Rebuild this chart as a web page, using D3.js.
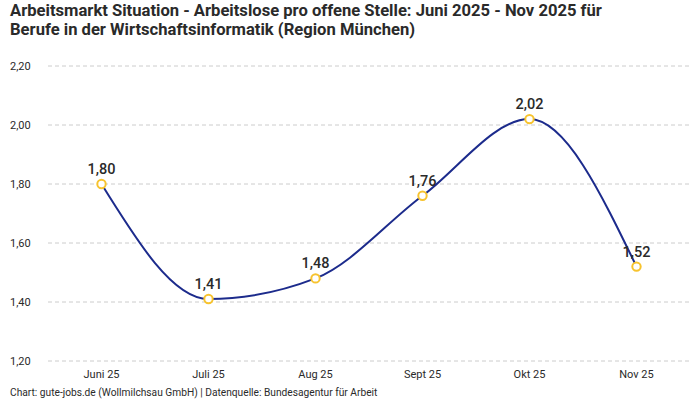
<!DOCTYPE html>
<html>
<head>
<meta charset="utf-8">
<script src="https://cdn.jsdelivr.net/npm/d3@7"></script>
<style>
  body { margin: 0; background: #fff; }
  text { font-family: Roboto, "Noto Sans", sans-serif; fill: #2a2a2a; }
</style>
</head>
<body>
<div id="chart"></div>
<script>
// data
var months = ["Juni 25", "Juli 25", "Aug 25", "Sept 25", "Okt 25", "Nov 25"];
var ratio = [1.80, 1.41, 1.48, 1.76, 2.02, 1.52];
var yTicks = [1.20, 1.40, 1.60, 1.80, 2.00, 2.20];
var titleLines = ["Arbeitsmarkt Situation - Arbeitslose pro offene Stelle: Juni 2025 - Nov 2025 für",
  "Berufe in der Wirtschaftsinformatik (Region München)"];
var footer = "Chart: gute-jobs.de (Wollmilchsau GmbH) | Datenquelle: Bundesagentur für Arbeit";

var w = 700, h = 400;
var margin = {top: 66, right: 10, bottom: 39, left: 48};
var lineBlue = "#1c2b8c";
var dotYellow = "#f7c32e";

var svg = d3.select("#chart")
  .append("svg")
  .attr("width", w)
  .attr("height", h);

var data = months.map(function(m, i){ return {month: m, value: ratio[i]}; });

var xScale = d3.scaleBand()
  .domain(months)
  .range([margin.left, w - margin.right]);
var yScale = d3.scaleLinear()
  .domain([1.20, 2.20])
  .range([h - margin.bottom, margin.top]);

var fmt = function(v){ return d3.format(".2f")(v).replace(".", ","); };

// title
svg.selectAll(".title")
  .data(titleLines)
  .enter()
  .append("text")
  .attr("class", "title")
  .attr("x", 10)
  .attr("y", function(d, i){ return 16 + i * 19; })
  .attr("font-size", "16.6px")
  .attr("font-weight", "bold")
  .text(function(d){ return d; });

// grid lines
svg.append("g")
  .selectAll("line")
  .data(yTicks)
  .enter()
  .append("line")
  .attr("x1", margin.left)
  .attr("x2", w - margin.right)
  .attr("y1", function(d){ return yScale(d); })
  .attr("y2", function(d){ return yScale(d); })
  .attr("stroke", "#cccccc")
  .attr("stroke-dasharray", "4,3");

// y axis labels
var yAxis = d3.axisLeft(yScale)
  .tickValues(yTicks)
  .tickFormat(fmt)
  .tickSize(0);
svg.append("g")
  .attr("class", "axis")
  .attr("transform", "translate(10,0)")
  .call(yAxis)
  .call(function(g){
    g.select(".domain").remove();
    g.selectAll("text")
      .attr("text-anchor", "start")
      .attr("x", 0)
      .attr("font-size", "11px")
      .attr("font-family", "Roboto, 'Noto Sans', sans-serif")
      .attr("fill", "#2a2a2a");
  });

// x axis labels
var xAxis = d3.axisBottom(xScale).tickSize(0);
svg.append("g")
  .attr("class", "axis")
  .attr("transform", "translate(0," + (h - margin.bottom + 6) + ")")
  .call(xAxis)
  .call(function(g){
    g.select(".domain").remove();
    g.selectAll("text")
      .attr("font-size", "11px")
      .attr("font-family", "Roboto, 'Noto Sans', sans-serif")
      .attr("fill", "#2a2a2a");
  });

var cx = function(d){ return xScale(d.month) + xScale.bandwidth() / 2; };

// line
var line = d3.line()
  .x(cx)
  .y(function(d){ return yScale(d.value); })
  .curve(d3.curveMonotoneX);
svg.append("path")
  .datum(data)
  .attr("d", line)
  .attr("fill", "none")
  .attr("stroke", lineBlue)
  .attr("stroke-width", 2);

// value labels
svg.selectAll(".valueText")
  .data(data)
  .enter()
  .append("text")
  .attr("class", "valueText")
  .attr("x", cx)
  .attr("y", function(d){ return yScale(d.value) - 10; })
  .attr("text-anchor", "middle")
  .attr("font-size", "14.5px")
  .attr("font-weight", 500)
  .attr("fill", "#111")
  .text(function(d){ return fmt(d.value); });

// dots
svg.selectAll(".dot")
  .data(data)
  .enter()
  .append("circle")
  .attr("class", "dot")
  .attr("cx", cx)
  .attr("cy", function(d){ return yScale(d.value); })
  .attr("r", 4.2)
  .attr("fill", "#fff")
  .attr("stroke", dotYellow)
  .attr("stroke-width", 2);

// footer
svg.append("text")
  .attr("x", 10)
  .attr("y", h - 4)
  .attr("font-size", "10.2px")
  .text(footer);
</script>
</body>
</html>
